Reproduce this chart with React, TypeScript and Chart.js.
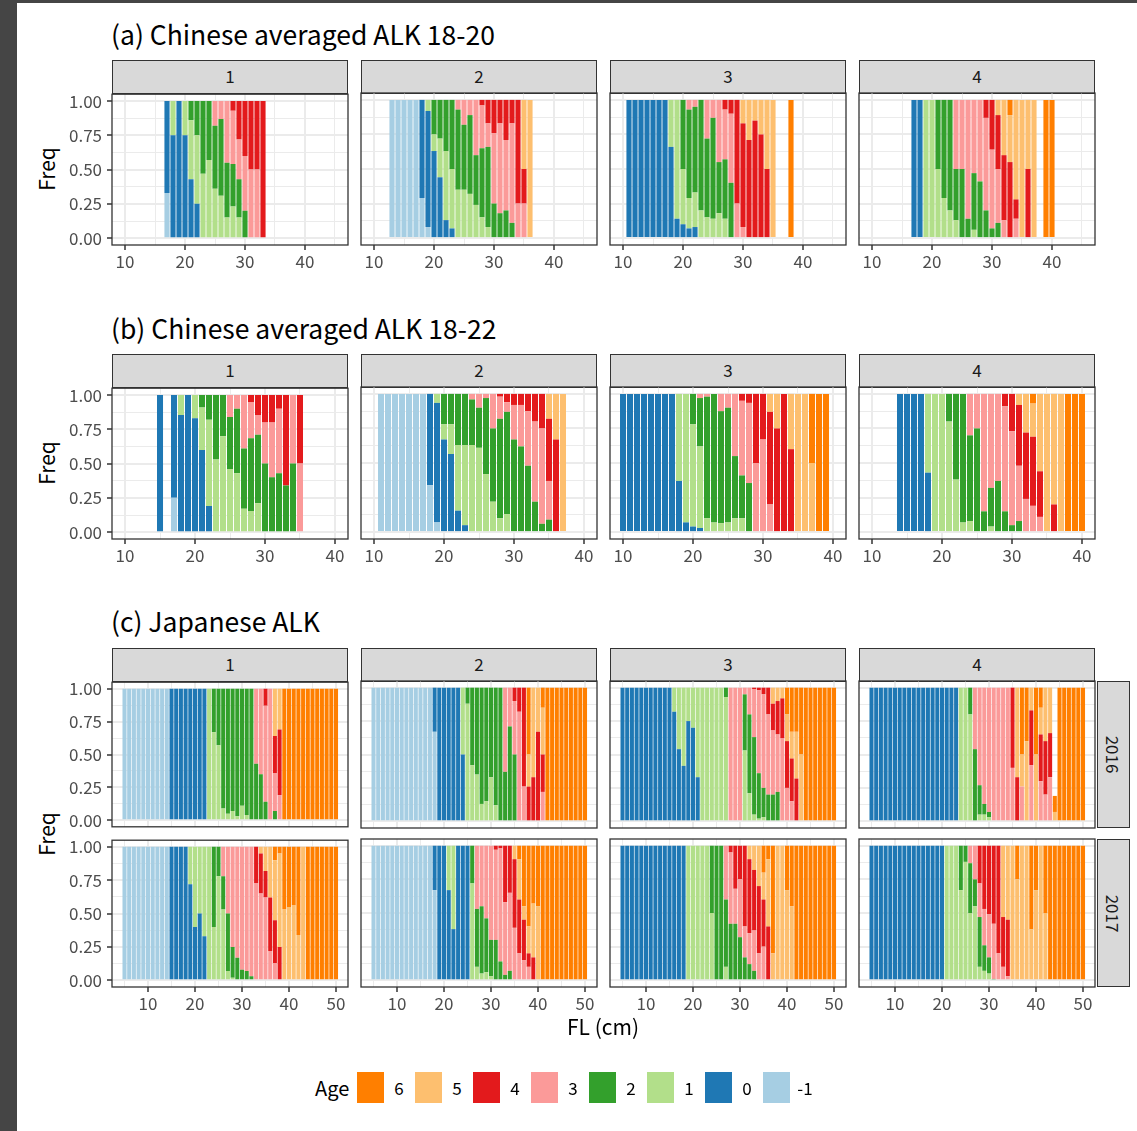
import React, { useEffect, useRef } from "react";
import { Chart, registerables } from "chart.js";

Chart.register(...registerables);

const FONT = "'Noto Sans CJK JP', 'Noto Sans', sans-serif";

// ---- categories / palette ----
const AGES = ["-1", "0", "1", "2", "3", "4", "5", "6"];
const AGE_COLORS = ["#A6CEE3", "#1F78B4", "#B2DF8A", "#33A02C", "#FB9A99", "#E31A1C", "#FDBF6F", "#FF7F00"];
const LEGEND_ORDER = ["6", "5", "4", "3", "2", "1", "0", "-1"];
const AREAS = ["1", "2", "3", "4"];
const YEARS = ["2016", "2017"];
const ROW_TITLES = ["(a) Chinese averaged ALK 18-20", "(b) Chinese averaged ALK 18-22", "(c) Japanese ALK"];

// ---- tick values ----
const Y_TICKS = [0, 0.25, 0.5, 0.75, 1];
const Y_MINOR = [0.125, 0.375, 0.625, 0.875];
const X_TICKS_AB = [10, 20, 30, 40];
const X_TICKS_C = [10, 20, 30, 40, 50];
const X_MINOR = [5, 15, 25, 35, 45];

// ---- data: [FL, p(-1), p(0), p(1), p(2), p(3), p(4), p(5), p(6)] ----
const A1 = [
  [17, .33, .67, 0, 0, 0, 0, 0, 0],
  [18, 0, .75, .25, 0, 0, 0, 0, 0],
  [19, 0, 1, 0, 0, 0, 0, 0, 0],
  [20, 0, .75, .25, 0, 0, 0, 0, 0],
  [21, 0, .43, .43, .14, 0, 0, 0, 0],
  [22, 0, .25, .5, .25, 0, 0, 0, 0],
  [23, 0, 0, .47, .53, 0, 0, 0, 0],
  [24, 0, 0, .57, .43, 0, 0, 0, 0],
  [25, 0, 0, .36, .46, .18, 0, 0, 0],
  [26, 0, 0, .31, .56, .13, 0, 0, 0],
  [27, 0, 0, .15, .4, .45, 0, 0, 0],
  [28, 0, 0, .23, .31, .39, .07, 0, 0],
  [29, 0, 0, .15, .28, .29, .28, 0, 0],
  [30, 0, 0, 0, .2, .4, .4, 0, 0],
  [31, 0, 0, 0, 0, .5, .5, 0, 0],
  [32, 0, 0, 0, 0, .5, .5, 0, 0],
  [33, 0, 0, 0, 0, 0, 1, 0, 0],
];
const A2 = [
  [13, 1, 0, 0, 0, 0, 0, 0, 0],
  [14, 1, 0, 0, 0, 0, 0, 0, 0],
  [15, 1, 0, 0, 0, 0, 0, 0, 0],
  [16, 1, 0, 0, 0, 0, 0, 0, 0],
  [17, 1, 0, 0, 0, 0, 0, 0, 0],
  [18, .29, .71, 0, 0, 0, 0, 0, 0],
  [19, .08, .84, .08, 0, 0, 0, 0, 0],
  [20, 0, .63, .12, .25, 0, 0, 0, 0],
  [21, 0, .44, .28, .28, 0, 0, 0, 0],
  [22, 0, .13, .5, .37, 0, 0, 0, 0],
  [23, 0, .07, .43, .5, 0, 0, 0, 0],
  [24, 0, 0, .35, .58, .07, 0, 0, 0],
  [25, 0, 0, .35, .47, .18, 0, 0, 0],
  [26, 0, 0, .32, .57, .11, 0, 0, 0],
  [27, 0, 0, .24, .36, .4, 0, 0, 0],
  [28, 0, 0, .15, .5, .31, .04, 0, 0],
  [29, 0, 0, .08, .58, .17, .17, 0, 0],
  [30, 0, 0, 0, .25, .51, .24, 0, 0],
  [31, 0, 0, 0, .18, .65, .17, 0, 0],
  [32, 0, 0, 0, .2, .51, .29, 0, 0],
  [33, 0, 0, 0, .11, .72, .17, 0, 0],
  [34, 0, 0, 0, 0, .25, .75, 0, 0],
  [35, 0, 0, 0, 0, .25, .25, .5, 0],
  [36, 0, 0, 0, 0, 0, 0, 1, 0],
];
const A3 = [
  [11, 0, 1, 0, 0, 0, 0, 0, 0],
  [12, 0, 1, 0, 0, 0, 0, 0, 0],
  [13, 0, 1, 0, 0, 0, 0, 0, 0],
  [14, 0, 1, 0, 0, 0, 0, 0, 0],
  [15, 0, 1, 0, 0, 0, 0, 0, 0],
  [16, 0, 1, 0, 0, 0, 0, 0, 0],
  [17, 0, 1, 0, 0, 0, 0, 0, 0],
  [18, 0, .66, .34, 0, 0, 0, 0, 0],
  [19, 0, .14, .86, 0, 0, 0, 0, 0],
  [20, 0, .1, .4, .5, 0, 0, 0, 0],
  [21, 0, .07, .22, .64, .07, 0, 0, 0],
  [22, 0, .08, .25, .62, .05, 0, 0, 0],
  [23, 0, 0, .2, .8, 0, 0, 0, 0],
  [24, 0, 0, .15, .57, .28, 0, 0, 0],
  [25, 0, 0, .14, .73, .13, 0, 0, 0],
  [26, 0, 0, .18, .37, .45, 0, 0, 0],
  [27, 0, 0, .14, .43, .36, .07, 0, 0],
  [28, 0, 0, 0, .4, .5, .1, 0, 0],
  [29, 0, 0, 0, 0, .25, .75, 0, 0],
  [30, 0, 0, 0, 0, .08, .75, .17, 0],
  [31, 0, 0, 0, 0, 0, .71, .29, 0],
  [32, 0, 0, 0, 0, 0, .85, .15, 0],
  [33, 0, 0, 0, 0, 0, .75, .25, 0],
  [34, 0, 0, 0, 0, 0, .5, .5, 0],
  [35, 0, 0, 0, 0, 0, 0, 1, 0],
  [38, 0, 0, 0, 0, 0, 0, 0, 1],
];
const A4 = [
  [17, 0, 1, 0, 0, 0, 0, 0, 0],
  [18, 0, 1, 0, 0, 0, 0, 0, 0],
  [19, 0, 0, 1, 0, 0, 0, 0, 0],
  [20, 0, 0, 1, 0, 0, 0, 0, 0],
  [21, 0, 0, .5, .5, 0, 0, 0, 0],
  [22, 0, 0, .29, .71, 0, 0, 0, 0],
  [23, 0, 0, .2, .8, 0, 0, 0, 0],
  [24, 0, 0, .13, .37, .5, 0, 0, 0],
  [25, 0, 0, 0, .5, .5, 0, 0, 0],
  [26, 0, 0, 0, .14, .86, 0, 0, 0],
  [27, 0, 0, .06, .41, .53, 0, 0, 0],
  [28, 0, 0, 0, .41, .59, 0, 0, 0],
  [29, 0, 0, 0, .2, .67, .13, 0, 0],
  [30, 0, 0, 0, .07, .57, .36, 0, 0],
  [31, 0, 0, 0, .11, .39, .39, .11, 0],
  [32, 0, 0, 0, 0, .13, .47, .4, 0],
  [33, 0, 0, 0, 0, 0, .55, .34, .11],
  [34, 0, 0, 0, 0, .14, .14, .72, 0],
  [35, 0, 0, 0, 0, 0, 0, 1, 0],
  [36, 0, 0, 0, 0, 0, .5, .5, 0],
  [37, 0, 0, 0, 0, 0, 0, 1, 0],
  [39, 0, 0, 0, 0, 0, 0, 0, 1],
  [40, 0, 0, 0, 0, 0, 0, 0, 1],
];
const B1 = [
  [15, 0, 1, 0, 0, 0, 0, 0, 0],
  [17, .25, .75, 0, 0, 0, 0, 0, 0],
  [18, 0, .855, .145, 0, 0, 0, 0, 0],
  [19, 0, 1, 0, 0, 0, 0, 0, 0],
  [20, 0, .83, .17, 0, 0, 0, 0, 0],
  [21, 0, .6, .31, .09, 0, 0, 0, 0],
  [22, 0, .19, .63, .18, 0, 0, 0, 0],
  [23, 0, 0, .53, .47, 0, 0, 0, 0],
  [24, 0, 0, .7, .3, 0, 0, 0, 0],
  [25, 0, 0, .46, .38, .16, 0, 0, 0],
  [26, 0, 0, .43, .47, .1, 0, 0, 0],
  [27, 0, 0, .17, .44, .39, 0, 0, 0],
  [28, 0, 0, .155, .53, .265, .05, 0, 0],
  [29, 0, 0, .21, .5, .145, .145, 0, 0],
  [30, 0, 0, 0, .5, .3, .2, 0, 0],
  [31, 0, 0, 0, .4, .4, .2, 0, 0],
  [32, 0, 0, 0, .43, .47, .1, 0, 0],
  [33, 0, 0, 0, .34, 0, .66, 0, 0],
  [34, 0, 0, 0, .5, .5, 0, 0, 0],
  [35, 0, 0, 0, 0, .5, .5, 0, 0],
];
const B2 = [
  [11, 1, 0, 0, 0, 0, 0, 0, 0],
  [12, 1, 0, 0, 0, 0, 0, 0, 0],
  [13, 1, 0, 0, 0, 0, 0, 0, 0],
  [14, 1, 0, 0, 0, 0, 0, 0, 0],
  [15, 1, 0, 0, 0, 0, 0, 0, 0],
  [16, 1, 0, 0, 0, 0, 0, 0, 0],
  [17, 1, 0, 0, 0, 0, 0, 0, 0],
  [18, .34, .66, 0, 0, 0, 0, 0, 0],
  [19, .07, .865, .065, 0, 0, 0, 0, 0],
  [20, 0, .67, .11, .22, 0, 0, 0, 0],
  [21, 0, .565, .215, .22, 0, 0, 0, 0],
  [22, 0, .155, .475, .37, 0, 0, 0, 0],
  [23, 0, .05, .58, .37, 0, 0, 0, 0],
  [24, 0, 0, .63, .33, .04, 0, 0, 0],
  [25, 0, 0, .61, .29, .1, 0, 0, 0],
  [26, 0, 0, .42, .55, .03, 0, 0, 0],
  [27, 0, 0, .22, .53, .25, 0, 0, 0],
  [28, 0, 0, .1, .72, .16, .02, 0, 0],
  [29, 0, 0, .13, .74, .07, .06, 0, 0],
  [30, 0, 0, 0, .67, .25, .08, 0, 0],
  [31, 0, 0, 0, .62, .3, .08, 0, 0],
  [32, 0, 0, 0, .48, .395, .125, 0, 0],
  [33, 0, 0, 0, .22, .58, .2, 0, 0],
  [34, 0, 0, 0, .06, .69, .25, 0, 0],
  [35, 0, 0, 0, .09, .28, .45, .18, 0],
  [36, 0, 0, 0, 0, 0, .67, .33, 0],
  [37, 0, 0, 0, 0, 0, 0, 1, 0],
];
const B3 = [
  [10, 0, 1, 0, 0, 0, 0, 0, 0],
  [11, 0, 1, 0, 0, 0, 0, 0, 0],
  [12, 0, 1, 0, 0, 0, 0, 0, 0],
  [13, 0, 1, 0, 0, 0, 0, 0, 0],
  [14, 0, 1, 0, 0, 0, 0, 0, 0],
  [15, 0, 1, 0, 0, 0, 0, 0, 0],
  [16, 0, 1, 0, 0, 0, 0, 0, 0],
  [17, 0, 1, 0, 0, 0, 0, 0, 0],
  [18, 0, .37, .63, 0, 0, 0, 0, 0],
  [19, 0, .07, .93, 0, 0, 0, 0, 0],
  [20, 0, .04, .74, .22, 0, 0, 0, 0],
  [21, 0, .03, .59, .35, .03, 0, 0, 0],
  [22, 0, 0, .1, .88, .02, 0, 0, 0],
  [23, 0, 0, .07, .93, 0, 0, 0, 0],
  [24, 0, 0, .065, .81, .125, 0, 0, 0],
  [25, 0, 0, .07, .83, .1, 0, 0, 0],
  [26, 0, 0, .1, .45, .45, 0, 0, 0],
  [27, 0, 0, .1, .31, .54, .05, 0, 0],
  [28, 0, 0, 0, .355, .58, .065, 0, 0],
  [29, 0, 0, 0, 0, .5, .5, 0, 0],
  [30, 0, 0, 0, 0, .67, .33, 0, 0],
  [31, 0, 0, 0, 0, .2, .67, .13, 0],
  [32, 0, 0, 0, 0, 0, .75, .25, 0],
  [33, 0, 0, 0, 0, 0, 1, 0, 0],
  [34, 0, 0, 0, 0, 0, .6, .4, 0],
  [35, 0, 0, 0, 0, 0, 0, 1, 0],
  [36, 0, 0, 0, 0, 0, 0, 1, 0],
  [37, 0, 0, 0, 0, 0, 0, .5, .5],
  [38, 0, 0, 0, 0, 0, 0, 0, 1],
  [39, 0, 0, 0, 0, 0, 0, 0, 1],
];
const B4 = [
  [14, 0, 1, 0, 0, 0, 0, 0, 0],
  [15, 0, 1, 0, 0, 0, 0, 0, 0],
  [16, 0, 1, 0, 0, 0, 0, 0, 0],
  [17, 0, 1, 0, 0, 0, 0, 0, 0],
  [18, 0, .43, .57, 0, 0, 0, 0, 0],
  [19, 0, 0, 1, 0, 0, 0, 0, 0],
  [20, 0, 0, 1, 0, 0, 0, 0, 0],
  [21, 0, 0, .8, .2, 0, 0, 0, 0],
  [22, 0, 0, .38, .62, 0, 0, 0, 0],
  [23, 0, 0, .07, .93, 0, 0, 0, 0],
  [24, 0, 0, .08, .62, .3, 0, 0, 0],
  [25, 0, 0, 0, .75, .25, 0, 0, 0],
  [26, 0, 0, 0, .15, .85, 0, 0, 0],
  [27, 0, 0, .04, .28, .68, 0, 0, 0],
  [28, 0, 0, 0, .37, .63, 0, 0, 0],
  [29, 0, 0, 0, .15, .76, .09, 0, 0],
  [30, 0, 0, 0, .05, .68, .27, 0, 0],
  [31, 0, 0, 0, .08, .4, .44, .08, 0],
  [32, 0, 0, 0, 0, .24, .48, .28, 0],
  [33, 0, 0, 0, 0, .19, .5, .24, .07],
  [34, 0, 0, 0, 0, .11, .33, .56, 0],
  [35, 0, 0, 0, 0, 0, 0, 1, 0],
  [36, 0, 0, 0, 0, 0, .2, .8, 0],
  [37, 0, 0, 0, 0, 0, 0, 1, 0],
  [38, 0, 0, 0, 0, 0, 0, 0, 1],
  [39, 0, 0, 0, 0, 0, 0, 0, 1],
  [40, 0, 0, 0, 0, 0, 0, 0, 1],
];
const C1_2016 = [
  [5, 1, 0, 0, 0, 0, 0, 0, 0], [6, 1, 0, 0, 0, 0, 0, 0, 0], [7, 1, 0, 0, 0, 0, 0, 0, 0],
  [8, 1, 0, 0, 0, 0, 0, 0, 0], [9, 1, 0, 0, 0, 0, 0, 0, 0], [10, 1, 0, 0, 0, 0, 0, 0, 0],
  [11, 1, 0, 0, 0, 0, 0, 0, 0], [12, 1, 0, 0, 0, 0, 0, 0, 0], [13, 1, 0, 0, 0, 0, 0, 0, 0],
  [14, 1, 0, 0, 0, 0, 0, 0, 0],
  [15, 0, 1, 0, 0, 0, 0, 0, 0], [16, 0, 1, 0, 0, 0, 0, 0, 0], [17, 0, 1, 0, 0, 0, 0, 0, 0],
  [18, 0, 1, 0, 0, 0, 0, 0, 0], [19, 0, 1, 0, 0, 0, 0, 0, 0], [20, 0, 1, 0, 0, 0, 0, 0, 0],
  [21, 0, 1, 0, 0, 0, 0, 0, 0], [22, 0, 1, 0, 0, 0, 0, 0, 0],
  [23, 0, 0, 1, 0, 0, 0, 0, 0],
  [24, 0, 0, .67, .33, 0, 0, 0, 0],
  [25, 0, 0, .57, .43, 0, 0, 0, 0],
  [26, 0, 0, .09, .91, 0, 0, 0, 0],
  [27, 0, 0, .05, .95, 0, 0, 0, 0],
  [28, 0, 0, .07, .93, 0, 0, 0, 0],
  [29, 0, 0, .03, .97, 0, 0, 0, 0],
  [30, 0, 0, .11, .89, 0, 0, 0, 0],
  [31, 0, 0, .04, .96, 0, 0, 0, 0],
  [32, 0, 0, 0, 1, 0, 0, 0, 0],
  [33, 0, 0, 0, .43, .57, 0, 0, 0],
  [34, 0, 0, 0, .35, .65, 0, 0, 0],
  [35, 0, 0, 0, .14, .73, .13, 0, 0],
  [36, 0, 0, 0, 0, 1, 0, 0, 0],
  [37, 0, 0, 0, .07, .29, .28, .36, 0],
  [38, 0, 0, 0, 0, .19, .5, .31, 0],
  [39, 0, 0, 0, 0, 0, 0, 0, 1], [40, 0, 0, 0, 0, 0, 0, 0, 1], [41, 0, 0, 0, 0, 0, 0, 0, 1],
  [42, 0, 0, 0, 0, 0, 0, 0, 1], [43, 0, 0, 0, 0, 0, 0, 0, 1], [44, 0, 0, 0, 0, 0, 0, 0, 1],
  [45, 0, 0, 0, 0, 0, 0, 0, 1], [46, 0, 0, 0, 0, 0, 0, 0, 1], [47, 0, 0, 0, 0, 0, 0, 0, 1],
  [48, 0, 0, 0, 0, 0, 0, 0, 1], [49, 0, 0, 0, 0, 0, 0, 0, 1], [50, 0, 0, 0, 0, 0, 0, 0, 1],
];
const C1_2017 = [
  [5, 1, 0, 0, 0, 0, 0, 0, 0], [6, 1, 0, 0, 0, 0, 0, 0, 0], [7, 1, 0, 0, 0, 0, 0, 0, 0],
  [8, 1, 0, 0, 0, 0, 0, 0, 0], [9, 1, 0, 0, 0, 0, 0, 0, 0], [10, 1, 0, 0, 0, 0, 0, 0, 0],
  [11, 1, 0, 0, 0, 0, 0, 0, 0], [12, 1, 0, 0, 0, 0, 0, 0, 0], [13, 1, 0, 0, 0, 0, 0, 0, 0],
  [14, 1, 0, 0, 0, 0, 0, 0, 0],
  [15, 0, 1, 0, 0, 0, 0, 0, 0], [16, 0, 1, 0, 0, 0, 0, 0, 0], [17, 0, 1, 0, 0, 0, 0, 0, 0],
  [18, 0, 1, 0, 0, 0, 0, 0, 0],
  [19, 0, .72, .28, 0, 0, 0, 0, 0],
  [20, 0, .4, .6, 0, 0, 0, 0, 0],
  [21, 0, .5, .5, 0, 0, 0, 0, 0],
  [22, 0, .33, .67, 0, 0, 0, 0, 0],
  [23, 0, 0, 1, 0, 0, 0, 0, 0],
  [24, 0, 0, .4, .6, 0, 0, 0, 0],
  [25, 0, 0, .78, .22, 0, 0, 0, 0],
  [26, 0, 0, .53, .25, .22, 0, 0, 0],
  [27, 0, 0, .07, .43, .5, 0, 0, 0],
  [28, 0, 0, .02, .23, .75, 0, 0, 0],
  [29, 0, 0, 0, .17, .83, 0, 0, 0],
  [30, 0, 0, 0, .08, .92, 0, 0, 0],
  [31, 0, 0, 0, .07, .93, 0, 0, 0],
  [32, 0, 0, 0, .03, .97, 0, 0, 0],
  [33, 0, 0, 0, 0, .73, .27, 0, 0],
  [34, 0, 0, 0, 0, .65, .3, .05, 0],
  [35, 0, 0, 0, 0, .62, .2, .18, 0],
  [36, 0, 0, 0, 0, .22, .4, .38, 0],
  [37, 0, 0, 0, 0, .13, .32, .45, .1],
  [38, 0, 0, 0, 0, 0, .25, .7, .05],
  [39, 0, 0, 0, 0, 0, 0, .53, .47],
  [40, 0, 0, 0, 0, 0, 0, .55, .45],
  [41, 0, 0, 0, 0, 0, 0, .56, .44],
  [42, 0, 0, 0, 0, 0, 0, .34, .66],
  [43, 0, 0, 0, 0, 0, 0, 1, 0],
  [44, 0, 0, 0, 0, 0, 0, 0, 1], [45, 0, 0, 0, 0, 0, 0, 0, 1], [46, 0, 0, 0, 0, 0, 0, 0, 1],
  [47, 0, 0, 0, 0, 0, 0, 0, 1], [48, 0, 0, 0, 0, 0, 0, 0, 1], [49, 0, 0, 0, 0, 0, 0, 0, 1],
  [50, 0, 0, 0, 0, 0, 0, 0, 1],
];
const C2_2016 = [
  [5, 1, 0, 0, 0, 0, 0, 0, 0], [6, 1, 0, 0, 0, 0, 0, 0, 0], [7, 1, 0, 0, 0, 0, 0, 0, 0],
  [8, 1, 0, 0, 0, 0, 0, 0, 0], [9, 1, 0, 0, 0, 0, 0, 0, 0], [10, 1, 0, 0, 0, 0, 0, 0, 0],
  [11, 1, 0, 0, 0, 0, 0, 0, 0], [12, 1, 0, 0, 0, 0, 0, 0, 0], [13, 1, 0, 0, 0, 0, 0, 0, 0],
  [14, 1, 0, 0, 0, 0, 0, 0, 0], [15, 1, 0, 0, 0, 0, 0, 0, 0], [16, 1, 0, 0, 0, 0, 0, 0, 0],
  [17, 1, 0, 0, 0, 0, 0, 0, 0],
  [18, .67, .33, 0, 0, 0, 0, 0, 0],
  [19, 0, 1, 0, 0, 0, 0, 0, 0], [20, 0, 1, 0, 0, 0, 0, 0, 0], [21, 0, 1, 0, 0, 0, 0, 0, 0],
  [22, 0, 1, 0, 0, 0, 0, 0, 0], [23, 0, 1, 0, 0, 0, 0, 0, 0],
  [24, 0, .5, .5, 0, 0, 0, 0, 0],
  [25, 0, 0, .88, .12, 0, 0, 0, 0],
  [26, 0, 0, .42, .58, 0, 0, 0, 0],
  [27, 0, 0, .35, .65, 0, 0, 0, 0],
  [28, 0, 0, .13, .87, 0, 0, 0, 0],
  [29, 0, 0, .15, .85, 0, 0, 0, 0],
  [30, 0, 0, .33, .67, 0, 0, 0, 0],
  [31, 0, 0, .12, .88, 0, 0, 0, 0],
  [32, 0, 0, 0, 1, 0, 0, 0, 0],
  [33, 0, 0, 0, .37, .63, 0, 0, 0],
  [34, 0, 0, 0, .71, .29, 0, 0, 0],
  [35, 0, 0, 0, .5, .4, .1, 0, 0],
  [36, 0, 0, 0, 0, .82, .18, 0, 0],
  [37, 0, 0, 0, 0, .26, .74, 0, 0],
  [38, 0, 0, 0, 0, 0, .26, .24, .5],
  [39, 0, 0, 0, 0, 0, .33, .67, 0],
  [40, 0, 0, 0, 0, 0, .67, .33, 0],
  [41, 0, 0, 0, 0, .22, .28, .35, .15],
  [42, 0, 0, 0, 0, 0, 0, 0, 1], [43, 0, 0, 0, 0, 0, 0, 0, 1], [44, 0, 0, 0, 0, 0, 0, 0, 1],
  [45, 0, 0, 0, 0, 0, 0, 0, 1], [46, 0, 0, 0, 0, 0, 0, 0, 1], [47, 0, 0, 0, 0, 0, 0, 0, 1],
  [48, 0, 0, 0, 0, 0, 0, 0, 1], [49, 0, 0, 0, 0, 0, 0, 0, 1], [50, 0, 0, 0, 0, 0, 0, 0, 1],
];
const C2_2017 = [
  [5, 1, 0, 0, 0, 0, 0, 0, 0], [6, 1, 0, 0, 0, 0, 0, 0, 0], [7, 1, 0, 0, 0, 0, 0, 0, 0],
  [8, 1, 0, 0, 0, 0, 0, 0, 0], [9, 1, 0, 0, 0, 0, 0, 0, 0], [10, 1, 0, 0, 0, 0, 0, 0, 0],
  [11, 1, 0, 0, 0, 0, 0, 0, 0], [12, 1, 0, 0, 0, 0, 0, 0, 0], [13, 1, 0, 0, 0, 0, 0, 0, 0],
  [14, 1, 0, 0, 0, 0, 0, 0, 0], [15, 1, 0, 0, 0, 0, 0, 0, 0], [16, 1, 0, 0, 0, 0, 0, 0, 0],
  [17, 1, 0, 0, 0, 0, 0, 0, 0],
  [18, .67, .33, 0, 0, 0, 0, 0, 0],
  [19, 0, 1, 0, 0, 0, 0, 0, 0], [20, 0, 1, 0, 0, 0, 0, 0, 0],
  [21, 0, .67, .33, 0, 0, 0, 0, 0],
  [22, 0, .38, .62, 0, 0, 0, 0, 0],
  [23, 0, 1, 0, 0, 0, 0, 0, 0], [24, 0, 1, 0, 0, 0, 0, 0, 0], [25, 0, 1, 0, 0, 0, 0, 0, 0],
  [26, 0, 0, .72, .28, 0, 0, 0, 0],
  [27, 0, 0, .1, .43, .47, 0, 0, 0],
  [28, 0, 0, .05, .5, .45, 0, 0, 0],
  [29, 0, 0, .06, .4, .54, 0, 0, 0],
  [30, 0, 0, .03, .27, .7, 0, 0, 0],
  [31, 0, 0, 0, .3, .67, .03, 0, 0],
  [32, 0, 0, 0, .14, .84, .02, 0, 0],
  [33, 0, 0, 0, .04, .54, .42, 0, 0],
  [34, 0, 0, 0, .07, .58, .35, 0, 0],
  [35, 0, 0, 0, 0, .39, .51, .1, 0],
  [36, 0, 0, 0, 0, .2, .4, .3, .1],
  [37, 0, 0, 0, 0, .15, .3, .1, .45],
  [38, 0, 0, 0, 0, .1, .1, .2, .6],
  [39, 0, 0, 0, 0, 0, .17, .4, .43],
  [40, 0, 0, 0, 0, 0, 0, .55, .45],
  [41, 0, 0, 0, 0, 0, 0, 0, 1], [42, 0, 0, 0, 0, 0, 0, 0, 1], [43, 0, 0, 0, 0, 0, 0, 0, 1],
  [44, 0, 0, 0, 0, 0, 0, 0, 1], [45, 0, 0, 0, 0, 0, 0, 0, 1], [46, 0, 0, 0, 0, 0, 0, 0, 1],
  [47, 0, 0, 0, 0, 0, 0, 0, 1], [48, 0, 0, 0, 0, 0, 0, 0, 1], [49, 0, 0, 0, 0, 0, 0, 0, 1],
  [50, 0, 0, 0, 0, 0, 0, 0, 1],
];
const C3_2016 = [
  [5, 0, 1, 0, 0, 0, 0, 0, 0], [6, 0, 1, 0, 0, 0, 0, 0, 0], [7, 0, 1, 0, 0, 0, 0, 0, 0],
  [8, 0, 1, 0, 0, 0, 0, 0, 0], [9, 0, 1, 0, 0, 0, 0, 0, 0], [10, 0, 1, 0, 0, 0, 0, 0, 0],
  [11, 0, 1, 0, 0, 0, 0, 0, 0], [12, 0, 1, 0, 0, 0, 0, 0, 0], [13, 0, 1, 0, 0, 0, 0, 0, 0],
  [14, 0, 1, 0, 0, 0, 0, 0, 0], [15, 0, 1, 0, 0, 0, 0, 0, 0],
  [16, 0, .82, .18, 0, 0, 0, 0, 0],
  [17, 0, .54, .46, 0, 0, 0, 0, 0],
  [18, 0, .415, .585, 0, 0, 0, 0, 0],
  [19, 0, .75, .25, 0, 0, 0, 0, 0],
  [20, 0, .7, .3, 0, 0, 0, 0, 0],
  [21, 0, .33, .67, 0, 0, 0, 0, 0],
  [22, 0, 0, 1, 0, 0, 0, 0, 0], [23, 0, 0, 1, 0, 0, 0, 0, 0], [24, 0, 0, 1, 0, 0, 0, 0, 0],
  [25, 0, 0, 1, 0, 0, 0, 0, 0], [26, 0, 0, 1, 0, 0, 0, 0, 0],
  [27, 0, 0, .93, .07, 0, 0, 0, 0],
  [28, 0, 0, 0, 0, 1, 0, 0, 0], [29, 0, 0, 0, 0, 1, 0, 0, 0], [30, 0, 0, 0, 0, 1, 0, 0, 0],
  [31, 0, 0, .53, .42, .05, 0, 0, 0],
  [32, 0, 0, .21, .59, .2, 0, 0, 0],
  [33, 0, 0, .05, .58, .36, .01, 0, 0],
  [34, 0, 0, .02, .34, .62, .02, 0, 0],
  [35, 0, 0, .03, .22, .7, .05, 0, 0],
  [36, 0, 0, 0, .2, .6, .2, 0, 0],
  [37, 0, 0, 0, .2, .48, .2, .12, 0],
  [38, 0, 0, 0, .22, .43, .25, .1, 0],
  [39, 0, 0, 0, 0, .62, .3, .08, 0],
  [40, 0, 0, 0, 0, .25, .35, .2, .2],
  [41, 0, 0, 0, 0, .15, .32, .2, .33],
  [42, 0, 0, 0, 0, 0, .32, .35, .33],
  [43, 0, 0, 0, 0, 0, 0, .5, .5],
  [44, 0, 0, 0, 0, 0, 0, 0, 1], [45, 0, 0, 0, 0, 0, 0, 0, 1], [46, 0, 0, 0, 0, 0, 0, 0, 1],
  [47, 0, 0, 0, 0, 0, 0, 0, 1], [48, 0, 0, 0, 0, 0, 0, 0, 1], [49, 0, 0, 0, 0, 0, 0, 0, 1],
  [50, 0, 0, 0, 0, 0, 0, 0, 1],
];
const C3_2017 = [
  [5, 0, 1, 0, 0, 0, 0, 0, 0], [6, 0, 1, 0, 0, 0, 0, 0, 0], [7, 0, 1, 0, 0, 0, 0, 0, 0],
  [8, 0, 1, 0, 0, 0, 0, 0, 0], [9, 0, 1, 0, 0, 0, 0, 0, 0], [10, 0, 1, 0, 0, 0, 0, 0, 0],
  [11, 0, 1, 0, 0, 0, 0, 0, 0], [12, 0, 1, 0, 0, 0, 0, 0, 0], [13, 0, 1, 0, 0, 0, 0, 0, 0],
  [14, 0, 1, 0, 0, 0, 0, 0, 0], [15, 0, 1, 0, 0, 0, 0, 0, 0], [16, 0, 1, 0, 0, 0, 0, 0, 0],
  [17, 0, 1, 0, 0, 0, 0, 0, 0], [18, 0, 1, 0, 0, 0, 0, 0, 0],
  [19, 0, 0, 1, 0, 0, 0, 0, 0], [20, 0, 0, 1, 0, 0, 0, 0, 0], [21, 0, 0, 1, 0, 0, 0, 0, 0],
  [22, 0, 0, 1, 0, 0, 0, 0, 0], [23, 0, 0, 1, 0, 0, 0, 0, 0],
  [24, 0, 0, .5, .5, 0, 0, 0, 0],
  [25, 0, 0, 0, 1, 0, 0, 0, 0],
  [26, 0, 0, 0, 1, 0, 0, 0, 0],
  [27, 0, 0, .1, .5, .4, 0, 0, 0],
  [28, 0, 0, 0, .42, .53, .05, 0, 0],
  [29, 0, 0, 0, .42, .26, .32, 0, 0],
  [30, 0, 0, 0, .32, .43, .25, 0, 0],
  [31, 0, 0, 0, .17, .23, .6, 0, 0],
  [32, 0, 0, 0, .12, .23, .55, .1, 0],
  [33, 0, 0, 0, .07, .3, .45, .18, 0],
  [34, 0, 0, 0, 0, .2, .5, .3, 0],
  [35, 0, 0, 0, 0, .25, .35, .2, .2],
  [36, 0, 0, 0, 0, 0, .4, .5, .1],
  [37, 0, 0, 0, 0, 0, 0, .2, .8],
  [38, 0, 0, 0, 0, 0, 0, 1, 0],
  [39, 0, 0, 0, 0, 0, 0, 1, 0],
  [40, 0, 0, 0, 0, 0, 0, .67, .33],
  [41, 0, 0, 0, 0, 0, 0, .55, .45],
  [42, 0, 0, 0, 0, 0, 0, 0, 1], [43, 0, 0, 0, 0, 0, 0, 0, 1], [44, 0, 0, 0, 0, 0, 0, 0, 1],
  [45, 0, 0, 0, 0, 0, 0, 0, 1], [46, 0, 0, 0, 0, 0, 0, 0, 1], [47, 0, 0, 0, 0, 0, 0, 0, 1],
  [48, 0, 0, 0, 0, 0, 0, 0, 1], [49, 0, 0, 0, 0, 0, 0, 0, 1], [50, 0, 0, 0, 0, 0, 0, 0, 1],
];
const C4_2016 = [
  [5, 0, 1, 0, 0, 0, 0, 0, 0], [6, 0, 1, 0, 0, 0, 0, 0, 0], [7, 0, 1, 0, 0, 0, 0, 0, 0],
  [8, 0, 1, 0, 0, 0, 0, 0, 0], [9, 0, 1, 0, 0, 0, 0, 0, 0], [10, 0, 1, 0, 0, 0, 0, 0, 0],
  [11, 0, 1, 0, 0, 0, 0, 0, 0], [12, 0, 1, 0, 0, 0, 0, 0, 0], [13, 0, 1, 0, 0, 0, 0, 0, 0],
  [14, 0, 1, 0, 0, 0, 0, 0, 0], [15, 0, 1, 0, 0, 0, 0, 0, 0], [16, 0, 1, 0, 0, 0, 0, 0, 0],
  [17, 0, 1, 0, 0, 0, 0, 0, 0], [18, 0, 1, 0, 0, 0, 0, 0, 0], [19, 0, 1, 0, 0, 0, 0, 0, 0],
  [20, 0, 1, 0, 0, 0, 0, 0, 0], [21, 0, 1, 0, 0, 0, 0, 0, 0], [22, 0, 1, 0, 0, 0, 0, 0, 0],
  [23, 0, 1, 0, 0, 0, 0, 0, 0],
  [24, 0, 0, 1, 0, 0, 0, 0, 0],
  [25, 0, 0, 1, 0, 0, 0, 0, 0],
  [26, 0, 0, .8, .2, 0, 0, 0, 0],
  [27, 0, 0, 0, .54, .46, 0, 0, 0],
  [28, 0, 0, .05, .22, .73, 0, 0, 0],
  [29, 0, 0, .05, .08, .87, 0, 0, 0],
  [30, 0, 0, .03, .04, .93, 0, 0, 0],
  [31, 0, 0, 0, 0, 1, 0, 0, 0], [32, 0, 0, 0, 0, 1, 0, 0, 0], [33, 0, 0, 0, 0, 1, 0, 0, 0],
  [34, 0, 0, 0, 0, 1, 0, 0, 0],
  [35, 0, 0, 0, 0, .4, .6, 0, 0],
  [36, 0, 0, 0, 0, 0, .33, .67, 0],
  [37, 0, 0, 0, 0, .26, 0, .24, .5],
  [38, 0, 0, 0, 0, 0, 0, .6, .4],
  [39, 0, 0, 0, 0, .42, .41, .17, 0],
  [40, 0, 0, 0, 0, 0, 0, .5, .5],
  [41, 0, 0, 0, 0, .3, .35, .2, .15],
  [42, 0, 0, 0, 0, .2, .4, .4, 0],
  [43, 0, 0, 0, 0, .33, .33, .34, 0],
  [44, 0, 0, 0, 0, 0, 0, .07, .12],
  [45, 0, 0, 0, 0, 0, 0, 0, 1], [46, 0, 0, 0, 0, 0, 0, 0, 1], [47, 0, 0, 0, 0, 0, 0, 0, 1],
  [48, 0, 0, 0, 0, 0, 0, 0, 1], [49, 0, 0, 0, 0, 0, 0, 0, 1], [50, 0, 0, 0, 0, 0, 0, 0, 1],
];
const C4_2017 = [
  [5, 0, 1, 0, 0, 0, 0, 0, 0], [6, 0, 1, 0, 0, 0, 0, 0, 0], [7, 0, 1, 0, 0, 0, 0, 0, 0],
  [8, 0, 1, 0, 0, 0, 0, 0, 0], [9, 0, 1, 0, 0, 0, 0, 0, 0], [10, 0, 1, 0, 0, 0, 0, 0, 0],
  [11, 0, 1, 0, 0, 0, 0, 0, 0], [12, 0, 1, 0, 0, 0, 0, 0, 0], [13, 0, 1, 0, 0, 0, 0, 0, 0],
  [14, 0, 1, 0, 0, 0, 0, 0, 0], [15, 0, 1, 0, 0, 0, 0, 0, 0], [16, 0, 1, 0, 0, 0, 0, 0, 0],
  [17, 0, 1, 0, 0, 0, 0, 0, 0], [18, 0, 1, 0, 0, 0, 0, 0, 0], [19, 0, 1, 0, 0, 0, 0, 0, 0],
  [20, 0, 1, 0, 0, 0, 0, 0, 0],
  [21, 0, 0, 1, 0, 0, 0, 0, 0], [22, 0, 0, 1, 0, 0, 0, 0, 0], [23, 0, 0, 1, 0, 0, 0, 0, 0],
  [24, 0, 0, .67, .33, 0, 0, 0, 0],
  [25, 0, 0, .88, .12, 0, 0, 0, 0],
  [26, 0, 0, .5, .37, .13, 0, 0, 0],
  [27, 0, 0, .55, .2, .25, 0, 0, 0],
  [28, 0, 0, .1, .37, .25, .28, 0, 0],
  [29, 0, 0, .07, .19, .27, .47, 0, 0],
  [30, 0, 0, .05, .12, .32, .51, 0, 0],
  [31, 0, 0, 0, .01, .41, .58, 0, 0],
  [32, 0, 0, 0, 0, .2, .8, 0, 0],
  [33, 0, 0, 0, 0, .1, .37, .53, 0],
  [34, 0, 0, 0, 0, .03, .42, .55, 0],
  [35, 0, 0, 0, 0, 0, 0, 1, 0],
  [36, 0, 0, 0, 0, 0, 0, .75, .25],
  [37, 0, 0, 0, 0, 0, 0, 1, 0],
  [38, 0, 0, 0, 0, 0, 0, 1, 0],
  [39, 0, 0, 0, 0, 0, 0, .38, .62],
  [40, 0, 0, 0, 0, 0, 0, .67, .33],
  [41, 0, 0, 0, 0, 0, 0, 1, 0],
  [42, 0, 0, 0, 0, 0, 0, .5, .5],
  [43, 0, 0, 0, 0, 0, 0, 0, 1], [44, 0, 0, 0, 0, 0, 0, 0, 1], [45, 0, 0, 0, 0, 0, 0, 0, 1],
  [46, 0, 0, 0, 0, 0, 0, 0, 1], [47, 0, 0, 0, 0, 0, 0, 0, 1], [48, 0, 0, 0, 0, 0, 0, 0, 1],
  [49, 0, 0, 0, 0, 0, 0, 0, 1], [50, 0, 0, 0, 0, 0, 0, 0, 1],
];

const PANEL_DATA_A = [A1, A2, A3, A4];
const PANEL_DATA_B = [B1, B2, B3, B4];
const PANEL_DATA_C2016 = [C1_2016, C2_2016, C3_2016, C4_2016];
const PANEL_DATA_C2017 = [C1_2017, C2_2017, C3_2017, C4_2017];

// ---- layout (pixels) ----
const COL_X = [112, 361, 610, 859];
const PANEL_W = 236;
const TICK_SIZE = 17;

const borderPlugin = {
  id: "panelBorder",
  afterDraw(chart: any) {
    const { ctx, chartArea: a } = chart;
    ctx.save();
    ctx.strokeStyle = "#333333";
    ctx.lineWidth = 1.3;
    ctx.strokeRect(a.left, a.top, a.right - a.left, a.bottom - a.top);
    ctx.restore();
  },
};

const near = (list: number[], v: number) => list.some((t) => Math.abs(t - v) < 1e-6);

type PanelProps = {
  rows: number[][];
  left: number;
  top: number;
  height: number;
  xMin: number;
  xMax: number;
  xMajor: number[];
  showY: boolean;
  showX: boolean;
};

function Panel({ rows, left, top, height, xMin, xMax, xMajor, showY, showX }: PanelProps) {
  const ref = useRef<HTMLCanvasElement | null>(null);
  const yw = showY ? 60 : 0;
  const padL = 20, padR = 20, padT = 14;
  const xh = showX ? 30 : 0;
  const padB = showX ? 0 : 14;
  const cw = padL + yw + PANEL_W + padR;
  const ch = padT + height + xh + padB;

  useEffect(() => {
    if (!ref.current) return;
    const xAll = [...xMajor, ...X_MINOR].filter((v) => v > xMin && v < xMax).sort((a, b) => a - b);
    const yAll = [...Y_TICKS, ...Y_MINOR].sort((a, b) => a - b);
    const datasets = AGES.map((age, i) => ({
      label: age,
      data: rows.map((r) => ({ x: r[0], y: r[i + 1] })),
      backgroundColor: AGE_COLORS[i],
      borderWidth: 0,
      barPercentage: 0.86,
      categoryPercentage: 1,
    }));
    const chart = new Chart(ref.current, {
      type: "bar",
      data: { datasets } as any,
      options: {
        animation: false,
        responsive: false,
        devicePixelRatio: 1,
        layout: { padding: { left: padL, right: padR, top: padT, bottom: padB } },
        plugins: { legend: { display: false }, tooltip: { enabled: false } },
        scales: {
          x: {
            type: "linear",
            stacked: true,
            offset: false,
            min: xMin,
            max: xMax,
            afterBuildTicks: (s: any) => {
              s.ticks = xAll.map((v) => ({ value: v }));
            },
            afterFit: (s: any) => {
              s.height = xh;
            },
            border: { display: false },
            grid: {
              offset: false,
              color: "#EBEBEB",
              lineWidth: (c: any) => (c.tick && near(xMajor, c.tick.value) ? 2 : 1),
              drawTicks: showX,
              tickLength: 5,
              tickWidth: 1.5,
              tickColor: (c: any) => (c.tick && near(xMajor, c.tick.value) ? "#333333" : "rgba(0,0,0,0)"),
            },
            ticks: {
              display: showX,
              autoSkip: false,
              maxRotation: 0,
              minRotation: 0,
              padding: 1,
              color: "#4D4D4D",
              font: { family: FONT, size: TICK_SIZE },
              callback: (v: any) => (near(xMajor, Number(v)) ? String(v) : ""),
            },
          },
          y: {
            type: "linear",
            stacked: true,
            min: -0.05,
            max: 1.05,
            afterBuildTicks: (s: any) => {
              s.ticks = yAll.map((v) => ({ value: v }));
            },
            afterFit: (s: any) => {
              s.width = yw;
            },
            border: { display: false },
            grid: {
              color: "#EBEBEB",
              lineWidth: (c: any) => (c.tick && near(Y_TICKS, c.tick.value) ? 2 : 1),
              drawTicks: showY,
              tickLength: 5,
              tickWidth: 1.5,
              tickColor: (c: any) => (c.tick && near(Y_TICKS, c.tick.value) ? "#333333" : "rgba(0,0,0,0)"),
            },
            ticks: {
              display: showY,
              autoSkip: false,
              padding: 5,
              color: "#4D4D4D",
              font: { family: FONT, size: TICK_SIZE },
              callback: (v: any) => (near(Y_TICKS, Number(v)) ? Number(v).toFixed(2) : ""),
            },
          },
        },
      } as any,
      plugins: [borderPlugin],
    });
    return () => chart.destroy();
  }, [rows, xMin, xMax, xMajor, showY, showX, height, yw, xh, padB]);

  return (
    <canvas
      ref={ref}
      width={cw}
      height={ch}
      style={{ position: "absolute", left: left - yw - padL, top: top - padT, width: cw, height: ch }}
    />
  );
}

const textBase: React.CSSProperties = { position: "absolute", fontFamily: FONT, whiteSpace: "nowrap" };

function Strip({ left, top, width, height, label, vertical }: any) {
  return (
    <div
      style={{
        position: "absolute",
        left,
        top,
        width,
        height,
        boxSizing: "border-box",
        background: "#D9D9D9",
        border: "1.3px solid #333333",
        display: "flex",
        alignItems: "center",
        justifyContent: "center",
        fontFamily: FONT,
        fontSize: 17,
        color: "#1A1A1A",
        paddingBottom: vertical ? 0 : 3,
      }}
    >
      <span style={vertical ? { transform: "rotate(90deg)", display: "inline-block" } : {}}>{label}</span>
    </div>
  );
}

export default function App() {
  const rowDefs = [
    { title: ROW_TITLES[0], titleTop: 18, stripTop: 60, data: PANEL_DATA_A, top: 93, height: 152, xMin: 7.83, xMax: 47.17, xMajor: X_TICKS_AB, freqY: 169 },
    { title: ROW_TITLES[1], titleTop: 312, stripTop: 354, data: PANEL_DATA_B, top: 387, height: 152, xMin: 8.14, xMax: 41.86, xMajor: X_TICKS_AB, freqY: 463 },
  ];
  const cTop2016 = 681, cH2016 = 147, cTop2017 = 839, cH2017 = 148;
  const cXMin = 2.34, cXMax = 52.55;
  const titleStyle: React.CSSProperties = { ...textBase, left: 111, fontSize: 26.5, color: "#000", lineHeight: "32px" };
  const freqStyle: React.CSSProperties = { ...textBase, left: 46, fontSize: 21, color: "#000", transform: "translate(-50%, -50%) rotate(-90deg)" };

  return (
    <div style={{ position: "absolute", left: 0, top: 0, width: 1137, height: 1131, background: "#454545", overflow: "hidden" }}>
      <div style={{ position: "absolute", left: 17, top: 3, width: 1120, height: 1128, background: "#FFFFFF" }} />

      {rowDefs.map((r, ri) => (
        <React.Fragment key={"row" + ri}>
          <div style={{ ...titleStyle, top: r.titleTop }}>{r.title}</div>
          <div style={{ ...freqStyle, top: r.freqY }}>Freq</div>
          {AREAS.map((a, ci) => (
            <React.Fragment key={"p" + ri + ci}>
              <Strip left={COL_X[ci]} top={r.stripTop} width={PANEL_W} height={r.top - r.stripTop + 1} label={a} />
              <Panel rows={r.data[ci]} left={COL_X[ci]} top={r.top} height={r.height} xMin={r.xMin} xMax={r.xMax} xMajor={r.xMajor} showY={ci === 0} showX={true} />
            </React.Fragment>
          ))}
        </React.Fragment>
      ))}

      <div style={{ ...titleStyle, top: 605 }}>{ROW_TITLES[2]}</div>
      <div style={{ ...freqStyle, top: 834 }}>Freq</div>
      {AREAS.map((a, ci) => (
        <React.Fragment key={"c" + ci}>
          <Strip left={COL_X[ci]} top={648} width={PANEL_W} height={cTop2016 - 648 + 1} label={a} />
          <Panel rows={PANEL_DATA_C2016[ci]} left={COL_X[ci]} top={cTop2016} height={cH2016} xMin={cXMin} xMax={cXMax} xMajor={X_TICKS_C} showY={ci === 0} showX={false} />
          <Panel rows={PANEL_DATA_C2017[ci]} left={COL_X[ci]} top={cTop2017} height={cH2017} xMin={cXMin} xMax={cXMax} xMajor={X_TICKS_C} showY={ci === 0} showX={true} />
        </React.Fragment>
      ))}
      <Strip left={1097} top={cTop2016} width={33} height={cH2016} label={YEARS[0]} vertical />
      <Strip left={1097} top={cTop2017} width={33} height={cH2017} label={YEARS[1]} vertical />

      <div style={{ ...textBase, left: 603, top: 1026, fontSize: 21, color: "#000", transform: "translate(-50%, -50%)" }}>FL (cm)</div>

      <div style={{ ...textBase, left: 315, top: 1087, fontSize: 20, color: "#000", transform: "translateY(-50%)" }}>Age</div>
      {LEGEND_ORDER.map((age, i) => {
        const idx = AGES.indexOf(age);
        const x = 357 + i * 58;
        return (
          <React.Fragment key={"lg" + age}>
            <div style={{ position: "absolute", left: x, top: 1072, width: 27, height: 31, background: AGE_COLORS[idx] }} />
            <div style={{ ...textBase, left: x + 42, top: 1087, fontSize: 17, color: "#000", transform: "translate(-50%, -50%)" }}>{age}</div>
          </React.Fragment>
        );
      })}
    </div>
  );
}
